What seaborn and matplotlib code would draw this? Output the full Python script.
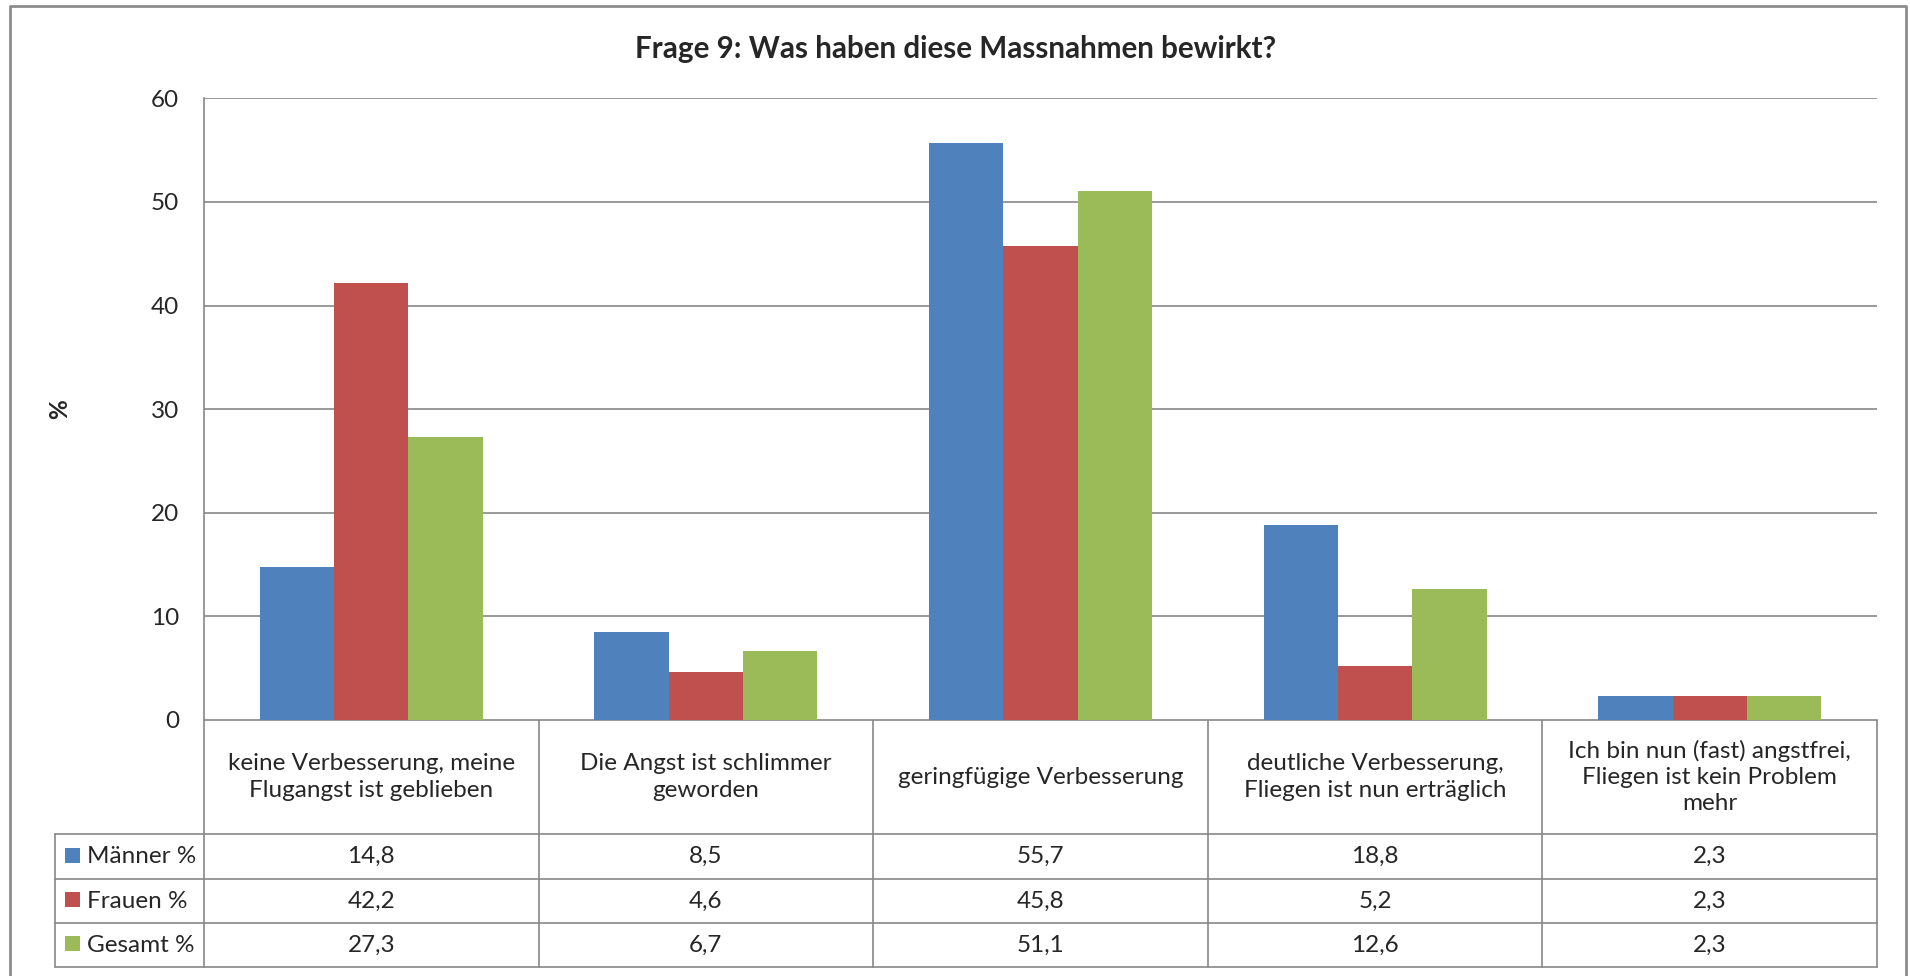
import pandas as pd
import numpy as np
import matplotlib
matplotlib.use('Agg')
import matplotlib.pyplot as plt
import seaborn as sns

# chart data
kategorien = [
    "keine Verbesserung, meine\nFlugangst ist geblieben",
    "Die Angst ist schlimmer\ngeworden",
    "geringfügige Verbesserung",
    "deutliche Verbesserung,\nFliegen ist nun erträglich",
    "Ich bin nun (fast) angstfrei,\nFliegen ist kein Problem\nmehr",
]
gruppen = ["Männer %", "Frauen %", "Gesamt %"]
maenner = [14.8, 8.5, 55.7, 18.8, 2.3]
frauen = [42.2, 4.6, 45.8, 5.2, 2.3]
gesamt = [27.3, 6.7, 51.1, 12.6, 2.3]
y_ticks = [0, 10, 20, 30, 40, 50, 60]
titel = "Frage 9: Was haben diese Massnahmen bewirkt?"

farben = ["#4F81BD", "#C0504D", "#9BBB59"]
grau = "#878787"
fs = 17.5

werte = [maenner, frauen, gesamt]
rows = []
for g, vals in zip(gruppen, werte):
    for k, v in zip(kategorien, vals):
        rows.append({"Kategorie": k, "Gruppe": g, "Wert": v})
df = pd.DataFrame(rows)

sns.set_theme(style="white")
plt.rcParams['font.family'] = ['Lato', 'DejaVu Sans']

W, H = 1910, 976
fig = plt.figure(figsize=(W / 100, H / 100), dpi=100)

# layout in pixels
x0, x1 = 204, 1877
y_top, y_bot = 98.4, 720
ax = fig.add_axes([x0 / W, 1 - y_bot / H, (x1 - x0) / W, (y_bot - y_top) / H])

sns.barplot(data=df, x="Kategorie", y="Wert", hue="Gruppe", order=kategorien,
            hue_order=gruppen, palette=farben, width=2 / 3, gap=0,
            saturation=1, linewidth=0, legend=False, ax=ax)

ax.set_xlim(-0.5, len(kategorien) - 0.5)
ax.set_ylim(0, 60)
ax.set_yticks(y_ticks)
ax.set_yticklabels([str(t) for t in y_ticks], fontsize=fs)
ax.tick_params(axis='y', length=0, pad=18)
ax.set_xticks([])
ax.set_xlabel("")
ax.set_ylabel("")
ax.yaxis.grid(True, color=grau, linewidth=1.2)
ax.set_axisbelow(True)
for s in ["top", "right", "bottom"]:
    ax.spines[s].set_visible(False)
ax.spines["left"].set_color(grau)
ax.spines["left"].set_linewidth(1.2)

fig.text(60 / W, 1 - 409 / H, "%", rotation=90, ha="center", va="center",
         fontsize=fs, fontweight="bold")

# overlay in pixel coordinates for the data table and frame
ov = fig.add_axes([0, 0, 1, 1], zorder=-1)
ov.set_xlim(0, W)
ov.set_ylim(H, 0)
ov.axis("off")

# outer frame
ov.plot([10, 10, 1906, 1906], [H + 5, 6, 6, H + 5], color="#8C8C8C", lw=2)

fig.text(956 / W, 1 - 49 / H, titel, ha="center", va="center",
         fontsize=21.3, fontweight="bold")

col_w = (x1 - x0) / len(kategorien)
leg_x = 55
row_y = [720, 834, 879, 923, 967]

ov.plot([x0, x1], [row_y[0], row_y[0]], color=grau, lw=1.2)
for y in row_y[1:]:
    ov.plot([leg_x, x1], [y, y], color=grau, lw=1.2)
ov.plot([leg_x, leg_x], [row_y[1], row_y[-1]], color=grau, lw=1.2)
for k in range(len(kategorien) + 1):
    xx = x0 + k * col_w
    ov.plot([xx, xx], [row_y[0], row_y[-1]], color=grau, lw=1.2)

for k, lab in enumerate(kategorien):
    cx = x0 + (k + 0.5) * col_w
    ov.text(cx, (row_y[0] + row_y[1]) / 2, lab, ha="center", va="center",
            fontsize=fs, linespacing=1.32)
    for r, vals in enumerate(werte):
        cy = (row_y[r + 1] + row_y[r + 2]) / 2
        ov.text(cx, cy, f"{vals[k]:.1f}".replace(".", ","), ha="center",
                va="center", fontsize=fs)

for r, (g, c) in enumerate(zip(gruppen, farben)):
    cy = (row_y[r + 1] + row_y[r + 2]) / 2
    ov.add_patch(plt.Rectangle((65, cy - 9), 15, 15, color=c, lw=0))
    ov.text(87, cy, g, ha="left", va="center", fontsize=fs)

fig.savefig("out.png", dpi=100, facecolor="white")
